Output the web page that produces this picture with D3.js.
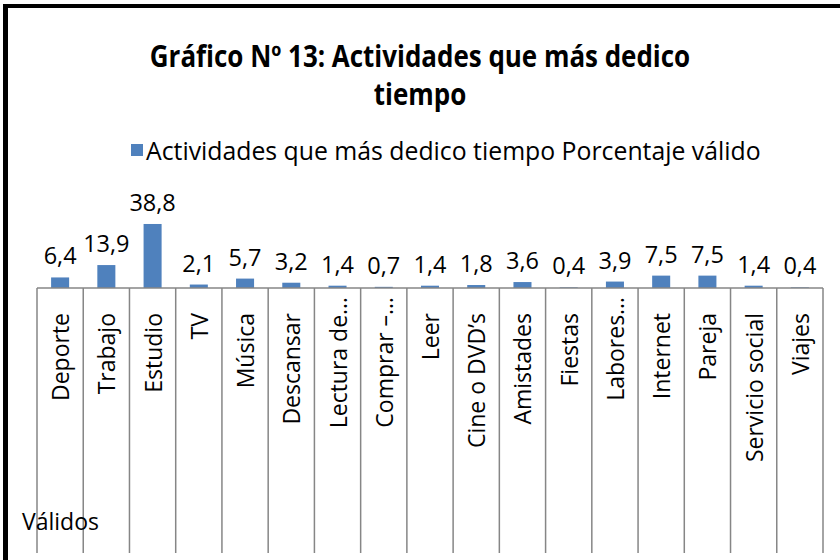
<!DOCTYPE html>
<html lang="es">
<head>
    <meta charset="UTF-8">
    <title>Gráfico Nº 13</title>
    <style>
        body { margin: 0; background: white; }
    </style>
</head>
<body>

    <script src="https://d3js.org/d3.v7.min.js"></script>

    <div id="chart"></div>
    <script>

    // data
    const categories = ["Deporte", "Trabajo", "Estudio", "TV", "Música", "Descansar", "Lectura de…",
        "Comprar –…", "Leer", "Cine o DVD’s", "Amistades", "Fiestas", "Labores…", "Internet",
        "Pareja", "Servicio social", "Viajes"];
    const values = [6.4, 13.9, 38.8, 2.1, 5.7, 3.2, 1.4, 0.7, 1.4, 1.8, 3.6, 0.4, 3.9, 7.5, 7.5, 1.4, 0.4];
    const groupLabel = "Válidos";
    const seriesName = "Actividades que más dedico tiempo Porcentaje válido";
    const titleLines = ["Gráfico Nº 13: Actividades que más dedico", "tiempo"];

    const width = 840, height = 560;
    const font = "'Open Sans', sans-serif";

    // plot area
    const plot = {left: 37, right: 823, base: 288};

    const svg = d3.select("#chart")
        .append("svg")
        .attr("width", width)
        .attr("height", height)
        .style("background", "white");

    const data = categories.map((c, i) => ({cat: c, val: values[i]}));

    const x = d3.scaleBand()
        .domain(categories)
        .range([plot.left, plot.right])
        .paddingInner(0.61)
        .paddingOuter(0.305);

    // no y axis drawn, only the scale for bar heights
    const y = d3.scaleLinear()
        .domain([0, 40])
        .range([plot.base, plot.base - 66]);

    // frame (only top and left show in the picture)
    svg.append("line")
        .attr("x1", 3).attr("x2", width)
        .attr("y1", 6).attr("y2", 6)
        .attr("stroke", "black").attr("stroke-width", 4);
    svg.append("line")
        .attr("x1", 5.5).attr("x2", 5.5)
        .attr("y1", 4).attr("y2", height)
        .attr("stroke", "black").attr("stroke-width", 5);

    // title - squeezed a bit so it looks closer to the narrow original font
    svg.append("g")
        .selectAll("text")
        .data(titleLines)
        .join("text")
        .attr("transform", (d, i) => `translate(420, ${67 + i * 38}) scale(0.88, 1)`)
        .attr("text-anchor", "middle")
        .attr("font-family", font)
        .attr("font-weight", "bold")
        .attr("font-size", 29.5)
        .text(d => d);

    // legend
    svg.append("rect")
        .attr("x", 131).attr("y", 144)
        .attr("width", 12).attr("height", 12)
        .attr("fill", "#4f81bd");
    svg.append("text")
        .attr("x", 146)
        .attr("y", 160)
        .attr("font-family", font)
        .attr("font-size", 24.8)
        .text(seriesName);

    // bars
    svg.append("g")
        .selectAll("rect")
        .data(data)
        .join("rect")
        .attr("x", d => x(d.cat))
        .attr("y", d => y(d.val))
        .attr("width", x.bandwidth())
        .attr("height", d => plot.base - y(d.val))
        .attr("fill", "#4f81bd");

    // value labels, comma decimals
    svg.append("g")
        .selectAll("text")
        .data(data)
        .join("text")
        .attr("x", d => x(d.cat) + x.bandwidth() / 2)
        .attr("y", d => y(d.val) - 13)
        .attr("text-anchor", "middle")
        .attr("font-family", font)
        .attr("font-size", 23.5)
        .text(d => d.val.toFixed(1).replace(".", ","));

    // category axis line + separators between categories
    const step = x.step();
    svg.append("line")
        .attr("x1", plot.left).attr("x2", plot.right)
        .attr("y1", plot.base).attr("y2", plot.base)
        .attr("stroke", "#868686").attr("stroke-width", 1.5);

    svg.append("g")
        .selectAll("line")
        .data(d3.range(categories.length + 1))
        .join("line")
        .attr("x1", i => plot.left + i * step)
        .attr("x2", i => plot.left + i * step)
        .attr("y1", plot.base)
        .attr("y2", 553)
        .attr("stroke", "#868686")
        .attr("stroke-width", 1.5);

    // rotated category labels, truncated ones sit a bit higher like excel does
    svg.append("g")
        .selectAll("text")
        .data(categories)
        .join("text")
        .attr("transform", d => {
            const cx = x(d) + x.bandwidth() / 2 + 9;
            const top = d.endsWith("…") ? 297 : 313;
            return `translate(${cx}, ${top}) rotate(-90)`;
        })
        .attr("text-anchor", "end")
        .attr("font-family", font)
        .attr("font-size", 23)
        .text(d => d);

    // second level label
    svg.append("text")
        .attr("x", 22)
        .attr("y", 530)
        .attr("font-family", font)
        .attr("font-size", 23)
        .text(groupLabel);

    </script>

</body>
</html>
